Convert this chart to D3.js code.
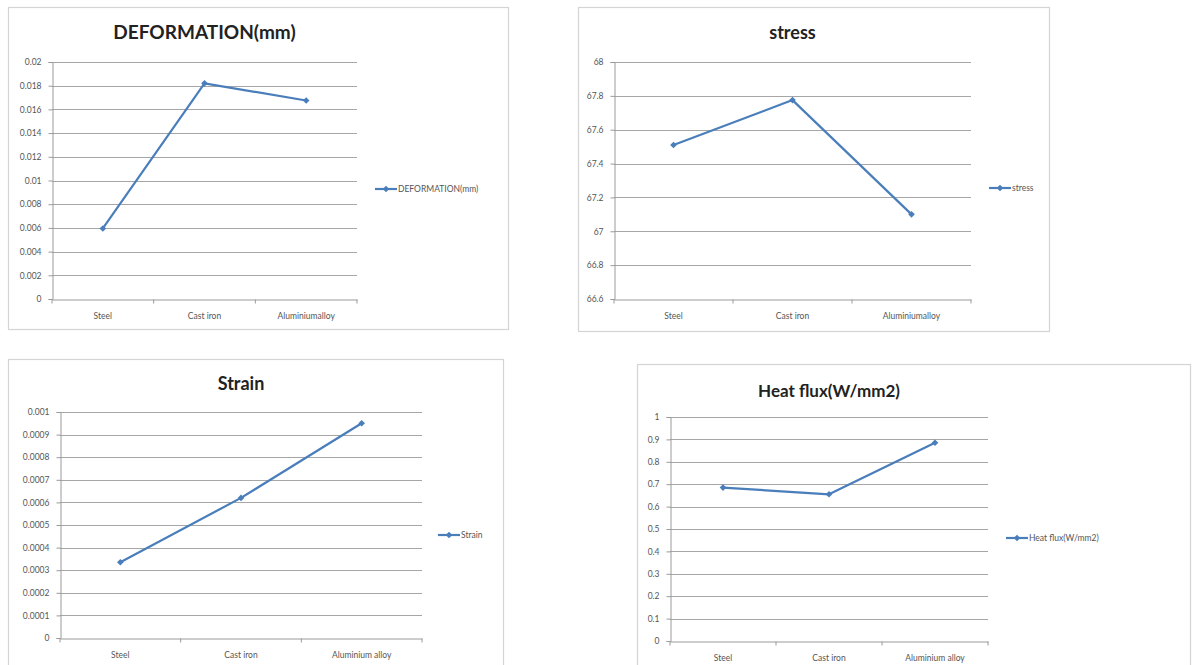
<!DOCTYPE html>
<html>
<head>
<meta charset="utf-8">
<script src="https://cdn.jsdelivr.net/npm/d3@7"></script>
<style>
  html, body { margin: 0; padding: 0; background: #ffffff; }
  svg { display: block; }
  text { font-family: Lato, "Open Sans", "Liberation Sans", sans-serif; }
</style>
</head>
<body>
<svg id="chart" width="1193" height="665"></svg>
<script>
// Materials compared on every panel
const materials = ["Steel", "Cast iron", "Aluminium alloy"];
const materialLabels1 = ["Steel", "Cast iron", "Aluminium alloy"];
const materialLabels2 = ["Steel", "Cast iron", "Aluminiumalloy"];

// Series values per panel
const deformation = [0.00595, 0.0182, 0.01675];
const stress = [67.51, 67.775, 67.10];
const strain = [0.000335, 0.00062, 0.00095];
const heatFlux = [0.685, 0.655, 0.885];

// Y tick values per panel
const deformationTicks = [0, 0.002, 0.004, 0.006, 0.008, 0.01, 0.012, 0.014, 0.016, 0.018, 0.02];
const stressTicks = [66.6, 66.8, 67, 67.2, 67.4, 67.6, 67.8, 68];
const strainTicks = [0, 0.0001, 0.0002, 0.0003, 0.0004, 0.0005, 0.0006, 0.0007, 0.0008, 0.0009, 0.001];
const heatFluxTicks = [0, 0.1, 0.2, 0.3, 0.4, 0.5, 0.6, 0.7, 0.8, 0.9, 1];

const panels = [
  { title: "DEFORMATION(mm)", legend: "DEFORMATION(mm)", values: deformation, ticks: deformationTicks,
    cats: materialLabels2,
    frame: [8, 7, 500, 322], plot: [52, 62, 357, 299], titleY: 39, titleSize: 19, legendX: 375, legendY: 189 },
  { title: "stress", legend: "stress", values: stress, ticks: stressTicks,
    cats: materialLabels2,
    frame: [578, 7, 471, 324], plot: [614, 62, 971, 299], titleY: 39, titleSize: 18, legendX: 989, legendY: 188 },
  { title: "Strain", legend: "Strain", values: strain, ticks: strainTicks,
    cats: materialLabels1,
    frame: [8, 359, 495, 320], plot: [60, 412, 422, 638], titleY: 390, titleSize: 18, legendX: 438, legendY: 535 },
  { title: "Heat flux(W/mm2)", legend: "Heat flux(W/mm2)", values: heatFlux, ticks: heatFluxTicks,
    cats: materialLabels1,
    frame: [637, 364, 553, 320], plot: [670, 417, 988, 641], titleY: 397, titleSize: 17, legendX: 1006, legendY: 538 }
];

const lineColor = "#4a7ebb";
const gridColor = "#a6a6a6";
const svg = d3.select("#chart");

function fmt(v) { return String(+v.toFixed(6)); }

// small square diamond marker
const marker = d3.symbol(d3.symbolSquare, 22)();

panels.forEach(p => {
  const g = svg.append("g");
  const [fx, fy, fw, fh] = p.frame;
  g.append("rect").attr("x", fx + 0.5).attr("y", fy + 0.5).attr("width", fw).attr("height", fh)
    .attr("fill", "#fff").attr("stroke", "#d4d4d4").attr("stroke-width", 1.2);

  const [x0, y0, x1, y1] = p.plot;
  const x = d3.scaleBand().domain(materials).range([x0, x1]);
  const y = d3.scaleLinear().domain(d3.extent(p.ticks)).range([y1, y0]);

  // horizontal gridlines
  g.append("g").selectAll("line").data(p.ticks.slice(1)).join("line")
    .attr("x1", x0).attr("x2", x1)
    .attr("y1", d => Math.round(y(d)) + 0.5).attr("y2", d => Math.round(y(d)) + 0.5)
    .attr("stroke", gridColor).attr("stroke-width", 1);

  // value axis
  const yAxis = g.append("g").attr("transform", `translate(${x0 + 0.5},0)`)
    .call(d3.axisLeft(y).tickValues(p.ticks).tickFormat(fmt).tickSize(4).tickPadding(7));
  yAxis.select(".domain").attr("stroke", "#9a9a9a");
  yAxis.selectAll(".tick line").attr("stroke", "#9a9a9a");
  yAxis.selectAll("text").attr("fill", "#555").attr("font-size", 8.5);

  // category axis with ticks between categories
  const xAxis = g.append("g").attr("transform", `translate(0,${Math.round(y1) + 0.5})`)
    .call(d3.axisBottom(x).tickSize(0).tickPadding(13).tickFormat((d, i) => p.cats[i]));
  xAxis.select(".domain").attr("stroke", "#9a9a9a");
  xAxis.selectAll("text").attr("fill", "#555").attr("font-size", 8.5);
  g.append("g").selectAll("line").data(materials).join("line")
    .attr("x1", d => x(d) + x.bandwidth()).attr("x2", d => x(d) + x.bandwidth())
    .attr("y1", Math.round(y1) + 0.5).attr("y2", Math.round(y1) + 4.5)
    .attr("stroke", "#9a9a9a");
  g.append("line").attr("x1", x0).attr("x2", x0).attr("y1", Math.round(y1) + 0.5).attr("y2", Math.round(y1) + 4.5)
    .attr("stroke", "#9a9a9a");

  // series line
  const pts = p.values.map((v, i) => [x(materials[i]) + x.bandwidth() / 2, y(v)]);
  g.append("path").attr("d", d3.line()(pts))
    .attr("fill", "none").attr("stroke", lineColor).attr("stroke-width", 2.2)
    .attr("stroke-linejoin", "round");
  g.append("g").selectAll("path").data(pts).join("path")
    .attr("d", marker)
    .attr("transform", d => `translate(${d[0]},${d[1]}) rotate(45)`)
    .attr("fill", lineColor);

  // title
  g.append("text").attr("x", (x0 + x1) / 2).attr("y", p.titleY)
    .attr("text-anchor", "middle").attr("font-weight", "bold")
    .attr("font-size", p.titleSize).attr("fill", "#222").text(p.title);

  // legend
  const lx = p.legendX, ly = p.legendY;
  g.append("line").attr("x1", lx).attr("x2", lx + 22).attr("y1", ly).attr("y2", ly)
    .attr("stroke", lineColor).attr("stroke-width", 2.2);
  g.append("path").attr("d", marker)
    .attr("transform", `translate(${lx + 11},${ly}) rotate(45)`).attr("fill", lineColor);
  g.append("text").attr("x", lx + 23).attr("y", ly).attr("dy", "0.35em")
    .attr("font-size", 8.5).attr("fill", "#555").text(p.legend);
});
</script>
</body>
</html>
